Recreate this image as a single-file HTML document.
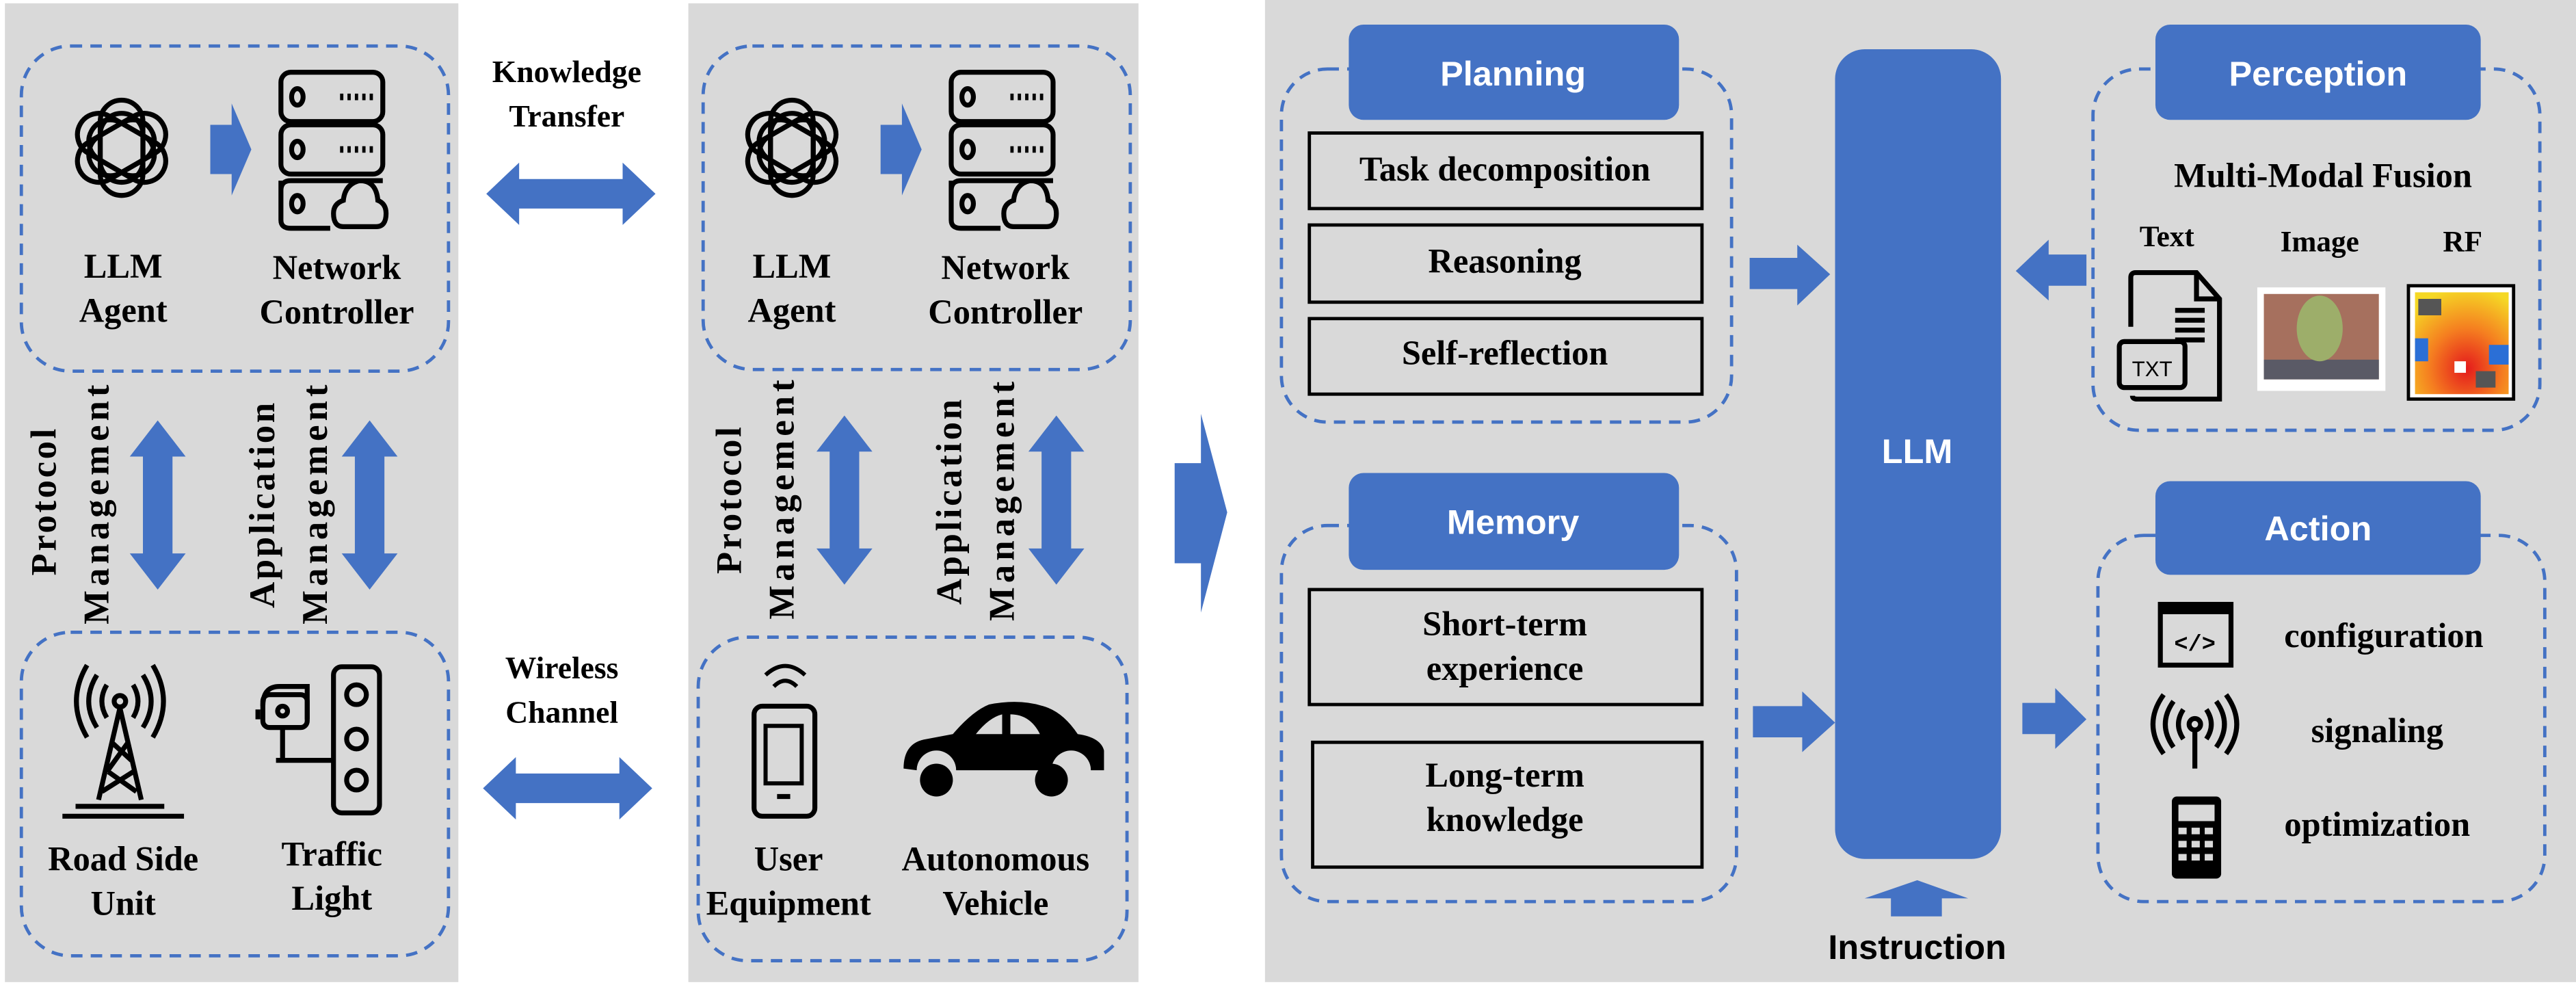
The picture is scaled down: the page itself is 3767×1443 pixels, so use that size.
<!DOCTYPE html>
<html><head><meta charset="utf-8"><style>
html,body{margin:0;padding:0;background:#fff;width:3767px;height:1443px;overflow:hidden}
svg{display:block}
text.s{font-family:"Liberation Serif","Times New Roman",Times,serif !important;font-weight:bold;fill:#000;text-anchor:middle}
text.h{font-family:"Liberation Sans",Arial,sans-serif;font-weight:bold;fill:#fff;text-anchor:middle}
.d{fill:none;stroke:#4472c4;stroke-width:2;stroke-dasharray:7 5}
.b{fill:#4472c4}
.k{fill:none;stroke:#000;stroke-width:3}
</style></head><body>
<svg width="3767" height="1443" viewBox="0 0 1568 601" preserveAspectRatio="none" xmlns="http://www.w3.org/2000/svg">
<defs>
<g id="oai">
 <g class="k" stroke-width="4">
  <rect x="-13" y="-29" width="26" height="50" rx="13"/>
  <rect x="-13" y="-29" width="26" height="50" rx="13" transform="rotate(60)"/>
  <rect x="-13" y="-29" width="26" height="50" rx="13" transform="rotate(120)"/>
  <rect x="-13" y="-29" width="26" height="50" rx="13" transform="rotate(180)"/>
  <rect x="-13" y="-29" width="26" height="50" rx="13" transform="rotate(240)"/>
  <rect x="-13" y="-29" width="26" height="50" rx="13" transform="rotate(300)"/>
 </g>
 <circle r="9" fill="#d9d9d9"/>
</g>
<g id="srv" class="k">
 <rect x="0" y="0" width="62" height="30" rx="6"/>
 <rect x="0" y="32" width="62" height="30" rx="6"/>
 <path d="M0 66 V90 Q0 95 6 95 H30 M62 66 H6 Q0 66 0 72"/>
 <ellipse cx="10" cy="15" rx="3.5" ry="5"/><ellipse cx="10" cy="47" rx="3.5" ry="5"/><ellipse cx="10" cy="80" rx="3.5" ry="5"/>
 <path d="M36 15 h20 M36 47 h20" stroke-dasharray="2 2.5" stroke-width="4"/>
 <path d="M38 94 q-6 0 -6 -8 q0 -6 6 -8 q1 -10 10 -12 q10 0 11 12 q5 2 5 8 q0 8 -6 8 z"/>
</g>
<g id="va"><polygon points="0,0 17,22 9,22 9,81 17,81 0,103 -17,81 -9,81 -9,22 -17,22" class="b"/></g>
<g id="ha"><polygon points="0,0 20,-19 20,-9 83,-9 83,-19 103,0 83,19 83,9 20,9 20,19" class="b"/></g>
</defs>
<rect width="1568" height="601" fill="#fff"/>
<rect x="3" y="2" width="276" height="596" fill="#d9d9d9"/>
<rect x="419" y="2" width="274" height="596" fill="#d9d9d9"/>
<rect x="770" y="0" width="798" height="598" fill="#d9d9d9"/>

<!-- panel 1 -->
<rect x="13" y="28" width="260" height="198" rx="30" class="d"/>
<rect x="13" y="385" width="260" height="197" rx="30" class="d"/>
<use href="#oai" x="74" y="90"/>
<polygon points="128,76 141,76 141,63 153,91 141,119 141,106 128,106" class="b"/>
<use href="#srv" x="171" y="44"/>
<g font-family="Liberation Serif, Times New Roman, serif" font-weight="bold">
<text class="s" font-size="21" x="75" y="169">LLM</text>
<text class="s" font-size="21" x="75" y="196">Agent</text>
<text class="s" font-size="21" x="205" y="170">Network</text>
<text class="s" font-size="21" x="205" y="197">Controller</text>
<text class="s" font-size="22" letter-spacing="1.5" transform="translate(34,305) rotate(-90)">Protocol</text>
<text class="s" font-size="22" letter-spacing="2.5" transform="translate(66,306) rotate(-90)">Management</text>
<text class="s" font-size="22" letter-spacing="1.5" transform="translate(167,307) rotate(-90)">Application</text>
<text class="s" font-size="22" letter-spacing="2.5" transform="translate(199,306) rotate(-90)">Management</text>
<text class="s" font-size="21" x="75" y="530">Road Side</text>
<text class="s" font-size="21" x="75" y="557">Unit</text>
<text class="s" font-size="21" x="202" y="527">Traffic</text>
<text class="s" font-size="21" x="202" y="554">Light</text>
<text class="s" font-size="19" x="345" y="50">Knowledge</text>
<text class="s" font-size="19" x="345" y="77">Transfer</text>
<text class="s" font-size="19" x="342" y="413">Wireless</text>
<text class="s" font-size="19" x="342" y="440">Channel</text>
<text class="s" font-size="21" x="482" y="169">LLM</text>
<text class="s" font-size="21" x="482" y="196">Agent</text>
<text class="s" font-size="21" x="612" y="170">Network</text>
<text class="s" font-size="21" x="612" y="197">Controller</text>
<text class="s" font-size="22" letter-spacing="1.5" transform="translate(451,304) rotate(-90)">Protocol</text>
<text class="s" font-size="22" letter-spacing="2.5" transform="translate(483,303) rotate(-90)">Management</text>
<text class="s" font-size="22" letter-spacing="1.5" transform="translate(585,305) rotate(-90)">Application</text>
<text class="s" font-size="22" letter-spacing="2.5" transform="translate(617,304) rotate(-90)">Management</text>
<text class="s" font-size="21" x="480" y="530">User</text>
<text class="s" font-size="21" x="480" y="557">Equipment</text>
<text class="s" font-size="21" x="606" y="530">Autonomous</text>
<text class="s" font-size="21" x="606" y="557">Vehicle</text>
<text class="s" font-size="21" x="916" y="110">Task decomposition</text>
<text class="s" font-size="21" x="916" y="166">Reasoning</text>
<text class="s" font-size="21" x="916" y="222">Self-reflection</text>
<text class="s" font-size="21" x="916" y="387">Short-term</text>
<text class="s" font-size="21" x="916" y="414">experience</text>
<text class="s" font-size="21" x="916" y="479">Long-term</text>
<text class="s" font-size="21" x="916" y="506">knowledge</text>
<text class="s" font-size="21" x="1414" y="114">Multi-Modal Fusion</text>
<text class="s" font-size="18" x="1319" y="150">Text</text>
<text class="s" font-size="18" x="1412" y="153">Image</text>
<text class="s" font-size="18" x="1499" y="153">RF</text>
<text class="s" font-size="21" x="1451" y="394">configuration</text>
<text class="s" font-size="21" x="1447" y="452">signaling</text>
<text class="s" font-size="21" x="1447" y="509">optimization</text>
</g>
<use href="#va" x="96" y="256"/>
<use href="#va" x="225" y="256"/>
<!-- tower -->
<g class="k" stroke-width="2.5">
 <circle cx="73" cy="427" r="3.5"/>
 <path d="M73 431 L60 487 M73 431 L86 487 M68 452 L80 463 M78 452 L65 470 M66 470 L83 482 M81 470 L62 482"/>
 <path d="M46 491 h54 M38 497 h74" stroke-width="3"/>
 <path d="M65 417 q-6 10 0 20 M81 417 q6 10 0 20 M59 411 q-10 16 0 32 M87 411 q10 16 0 32 M53 405 q-13 22 0 44 M93 405 q13 22 0 44"/>
</g>
<!-- traffic light -->
<g class="k">
 <rect x="203" y="406" width="28" height="89" rx="5"/>
 <circle cx="217" cy="423" r="6"/><circle cx="217" cy="450" r="6"/><circle cx="217" cy="475" r="6"/>
 <path d="M160 430 q0 -12 10 -12 h17 v20 M157 438 v-6"/>
 <rect x="160" y="423" width="27" height="20" rx="4"/>
 <circle cx="172" cy="433" r="3"/>
 <path d="M172 443 v20 h31 M168 463 h8"/>
</g>

<use href="#ha" x="296" y="118"/>
<use href="#ha" x="294" y="480"/>

<!-- panel 2 -->
<rect x="428" y="28" width="260" height="197" rx="30" class="d"/>
<rect x="425" y="388" width="261" height="197" rx="30" class="d"/>
<use href="#oai" x="482" y="90"/>
<polygon points="536,76 549,76 549,63 561,91 549,119 549,106 536,106" class="b"/>
<use href="#srv" x="579" y="44"/>
<use href="#va" x="514" y="253"/>
<use href="#va" x="643" y="253"/>
<!-- phone -->
<g class="k">
 <rect x="459" y="430" width="37" height="67" rx="5"/>
 <rect x="466" y="442" width="22" height="35" stroke-width="2.5"/>
 <path d="M473 485 h8"/>
 <path d="M471 418 q7 -7 14 0 M466 411 q12 -11 24 0" stroke-width="2.5"/>
</g>
<!-- car -->
<path d="M550 468 q0 -16 14 -18 l16 -3 q12 -14 22 -18 q20 -4 36 2 q10 4 18 16 q14 2 16 10 v12 h-8 a12 12 0 0 0 -24 0 h-58 a12 12 0 0 0 -24 0 z" fill="#000"/>
<path d="M594 447 q8 -10 16 -12 v12 z M615 435 q12 0 18 12 h-18 z" fill="#d9d9d9"/>
<circle cx="570" cy="475" r="10" fill="#000"/><circle cx="640" cy="475" r="10" fill="#000"/>

<!-- big arrow -->
<polygon points="715,282 731,282 731,252 747,312 731,373 731,343 715,343" class="b"/>

<!-- right panel -->
<rect x="780" y="42" width="274" height="215" rx="28" class="d"/>
<rect x="821" y="15" width="201" height="58" rx="9" class="b"/>
<text class="h" font-size="21" x="921" y="52">Planning</text>
<g fill="none" stroke="#000" stroke-width="2">
<rect x="797" y="81" width="239" height="46"/>
<rect x="797" y="137" width="239" height="47"/>
<rect x="797" y="194" width="239" height="46"/>
<rect x="797" y="359" width="239" height="70"/>
<rect x="799" y="452" width="237" height="76"/>
</g>

<rect x="780" y="320" width="277" height="229" rx="28" class="d"/>
<rect x="821" y="288" width="201" height="59" rx="9" class="b"/>
<text class="h" font-size="21" x="921" y="325">Memory</text>

<rect x="1117" y="30" width="101" height="493" rx="18" class="b"/>
<text class="h" font-size="21" x="1167" y="282">LLM</text>
<polygon points="1065,157 1094,157 1094,149 1114,167 1094,186 1094,176 1065,176" class="b"/>
<polygon points="1067,430 1097,430 1097,421 1117,440 1097,458 1097,449 1067,449" class="b"/>
<polygon points="1270,155 1247,155 1247,146 1227,165 1247,183 1247,174 1270,174" class="b"/>
<polygon points="1231,428 1251,428 1251,419 1270,438 1251,456 1251,447 1231,447" class="b"/>
<polygon points="1135,547 1167,536 1198,547 1182,547 1182,558 1151,558 1151,547" class="b"/>
<text class="h" font-size="21" x="1167" y="584" style="fill:#000">Instruction</text>

<rect x="1274" y="42" width="272" height="220" rx="28" class="d"/>
<rect x="1312" y="15" width="198" height="58" rx="9" class="b"/>
<text class="h" font-size="21" x="1411" y="52">Perception</text>
<g class="k" stroke-width="2.5">
 <path d="M1297 199 V169 q0 -3 3 -3 h37 l14 16 v61 h-50 q-3 0 -3 -2"/>
 <path d="M1337 166 v16 h14"/>
 <path d="M1324 189 h18 M1324 195 h18 M1324 201 h18 M1324 207 h18"/>
 <rect x="1290" y="208" width="40" height="28" rx="3"/>
</g>
<text x="1310" y="229" font-family="Liberation Sans,sans-serif" font-size="13" text-anchor="middle" fill="#000">TXT</text>
<rect x="1374" y="175" width="78" height="63" fill="#fff"/>
<rect x="1378" y="179" width="70" height="52" fill="#a6705e"/>
<rect x="1378" y="219" width="70" height="12" fill="#5a5a66"/>
<ellipse cx="1412" cy="200" rx="14" ry="20" fill="#9dae6a"/>
<rect x="1466" y="174" width="64" height="69" fill="#fff" stroke="#000" stroke-width="2"/>
<defs><radialGradient id="rf" cx="0.55" cy="0.75" r="0.8"><stop offset="0" stop-color="#e41a1c"/><stop offset="0.5" stop-color="#f57f20"/><stop offset="1" stop-color="#f5d825"/></radialGradient></defs>
<rect x="1470" y="178" width="57" height="62" fill="url(#rf)"/>
<rect x="1470" y="206" width="8" height="14" fill="#2b6fd6"/><rect x="1515" y="210" width="12" height="12" fill="#2b6fd6"/>
<rect x="1472" y="182" width="14" height="10" fill="#555"/><rect x="1507" y="226" width="12" height="10" fill="#555"/>
<rect x="1494" y="220" width="7" height="7" fill="#fff"/>

<rect x="1277" y="326" width="272" height="223" rx="28" class="d"/>
<rect x="1312" y="293" width="198" height="57" rx="9" class="b"/>
<text class="h" font-size="21" x="1411" y="329">Action</text>
<rect x="1315" y="368" width="43" height="37" fill="none" stroke="#000" stroke-width="3"/>
<rect x="1315" y="368" width="43" height="6" fill="#000"/>
<text x="1336" y="396" font-family="Liberation Mono,monospace" font-weight="bold" font-size="14" text-anchor="middle" fill="#000">&lt;/&gt;</text>
<g class="k" stroke-width="2.5">
 <circle cx="1336" cy="441" r="3.5"/><path d="M1336 445 v23"/>
 <path d="M1329 432 q-6 9 0 18 M1343 432 q6 9 0 18 M1323 427 q-10 14 0 28 M1349 427 q10 14 0 28 M1317 423 q-13 18 0 36 M1355 423 q13 18 0 36"/>
</g>
<rect x="1322" y="485" width="30" height="50" rx="3" fill="#000"/>
<rect x="1326" y="490" width="22" height="10" fill="#d9d9d9"/>
<g fill="#d9d9d9"><rect x="1326" y="504" width="5" height="4"/><rect x="1334" y="504" width="5" height="4"/><rect x="1342" y="504" width="5" height="4"/><rect x="1326" y="512" width="5" height="4"/><rect x="1334" y="512" width="5" height="4"/><rect x="1342" y="512" width="5" height="4"/><rect x="1326" y="520" width="5" height="4"/><rect x="1334" y="520" width="5" height="4"/><rect x="1342" y="520" width="5" height="4"/></g>
</svg>
</body></html>
